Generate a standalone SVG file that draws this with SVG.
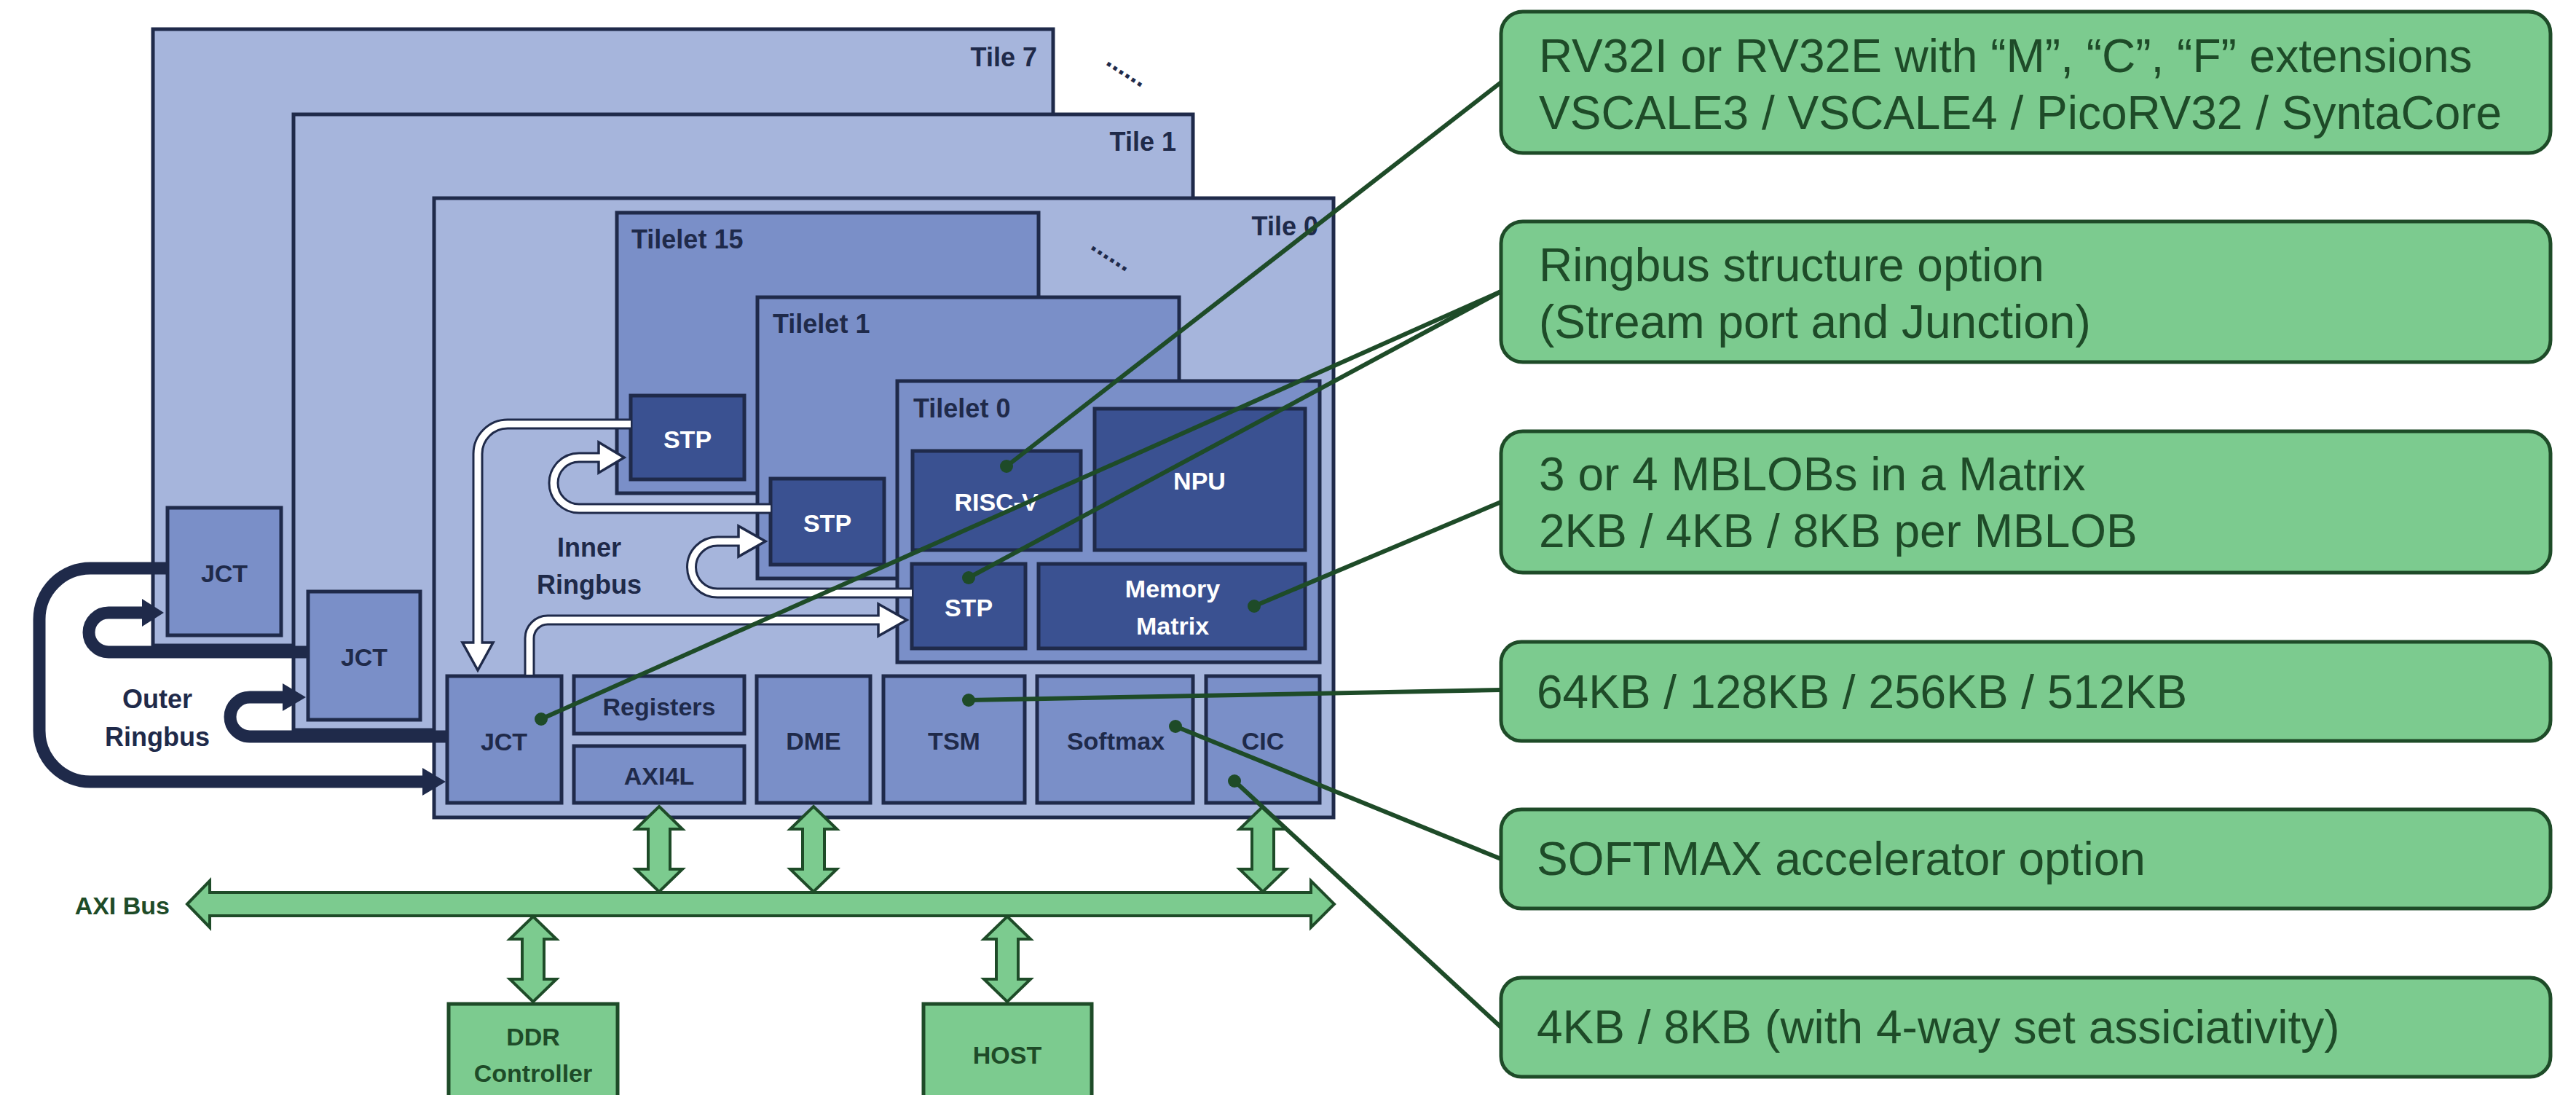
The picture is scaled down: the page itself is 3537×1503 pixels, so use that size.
<svg xmlns="http://www.w3.org/2000/svg" width="3537" height="1503" viewBox="0 0 3537 1503">
<style>
.tile{fill:#A6B5DC;stroke:#1F2A4A;stroke-width:5}
.mid{fill:#7A8FC8;stroke:#1F2A4A;stroke-width:5}
.dk{fill:#3A5191;stroke:#1F2A4A;stroke-width:5}
.lbl{font-family:"Liberation Sans",Arial,sans-serif;font-weight:bold;font-size:34px;fill:#1F2A4A}
.big{font-size:36px}
.wl{fill:#FFFFFF}
.gl{fill:#1E4B28}
.gbox{fill:#7CCB8F;stroke:#1E4B28;stroke-width:5}
.gtxt{font-family:"Liberation Sans",Arial,sans-serif;font-size:64px;fill:#1E4B28}
.garr{fill:#7CCB8F;stroke:#1E4B28;stroke-width:4;stroke-linejoin:miter}
.co{stroke:#1E4B28;stroke-width:6;fill:none}
.dot{fill:#1E4B28}
.orb{stroke:#1F2A4A;stroke-width:17;fill:none}
.orh{fill:#1F2A4A}
.iro{stroke:#1F2A4A;stroke-width:15;fill:none}
.iri{stroke:#FFFFFF;stroke-width:9;fill:none}
.irh{fill:#FFFFFF;stroke:#1F2A4A;stroke-width:3.5;stroke-linejoin:miter}
</style>

<g id="tile7">
<rect class="tile" x="210" y="40" width="1236" height="846"/>
<text class="lbl big" x="1424" y="91" text-anchor="end">Tile 7</text>
</g>
<g id="jct7">
<rect class="mid" x="230" y="697" width="156" height="175"/>
<text class="lbl" x="308" y="799" text-anchor="middle">JCT</text>
</g>
<text class="lbl big" transform="translate(1517,88) rotate(33)">......</text>

<g id="tile1">
<rect class="tile" x="403" y="157" width="1235" height="845"/>
<text class="lbl big" x="1615" y="207" text-anchor="end">Tile 1</text>
</g>
<g id="jct1">
<rect class="mid" x="423" y="812" width="154" height="176"/>
<text class="lbl" x="500" y="914" text-anchor="middle">JCT</text>
</g>

<g id="tile0">
<rect class="tile" x="596" y="272" width="1235" height="850"/>
<text class="lbl big" x="1810" y="323" text-anchor="end">Tile 0</text>
</g>
<text class="lbl big" transform="translate(1496,341) rotate(33)">......</text>

<g id="tilelet15">
<rect class="mid" x="847" y="292" width="579" height="385"/>
<text class="lbl big" x="867" y="341">Tilelet 15</text>
</g>
<g id="stp15">
<rect class="dk" x="866" y="543" width="156" height="115"/>
<text class="lbl wl" x="944" y="615" text-anchor="middle">STP</text>
</g>

<g id="tilelet1">
<rect class="mid" x="1040" y="408" width="579" height="386"/>
<text class="lbl big" x="1061" y="457">Tilelet 1</text>
</g>
<g id="stp1">
<rect class="dk" x="1058" y="657" width="156" height="118"/>
<text class="lbl wl" x="1136" y="730" text-anchor="middle">STP</text>
</g>

<g id="tilelet0">
<rect class="mid" x="1232" y="523" width="580" height="386"/>
<text class="lbl big" x="1254" y="573">Tilelet 0</text>
</g>
<g id="riscv">
<rect class="dk" x="1253" y="619" width="231" height="136"/>
<text class="lbl wl" x="1368" y="701" text-anchor="middle">RISC-V</text>
</g>
<g id="npu">
<rect class="dk" x="1503" y="561" width="289" height="194"/>
<text class="lbl wl" x="1647" y="672" text-anchor="middle">NPU</text>
</g>
<g id="stp0">
<rect class="dk" x="1252" y="774" width="156" height="116"/>
<text class="lbl wl" x="1330" y="846" text-anchor="middle">STP</text>
</g>
<g id="memory">
<rect class="dk" x="1426" y="774" width="366" height="116"/>
<text class="lbl wl" x="1610" y="820" text-anchor="middle">Memory</text>
<text class="lbl wl" x="1610" y="871" text-anchor="middle">Matrix</text>
</g>

<g id="jct0">
<rect class="mid" x="614" y="928" width="157" height="174"/>
<text class="lbl" x="692" y="1030" text-anchor="middle">JCT</text>
</g>
<g id="registers">
<rect class="mid" x="788" y="928" width="234" height="79"/>
<text class="lbl" x="905" y="982" text-anchor="middle">Registers</text>
</g>
<g id="axi4l">
<rect class="mid" x="788" y="1024" width="234" height="78"/>
<text class="lbl" x="905" y="1077" text-anchor="middle">AXI4L</text>
</g>
<g id="dme">
<rect class="mid" x="1039" y="928" width="156" height="174"/>
<text class="lbl" x="1117" y="1029" text-anchor="middle">DME</text>
</g>
<g id="tsm">
<rect class="mid" x="1213" y="928" width="194" height="174"/>
<text class="lbl" x="1310" y="1029" text-anchor="middle">TSM</text>
</g>
<g id="softmax">
<rect class="mid" x="1424" y="928" width="214" height="174"/>
<text class="lbl" x="1532" y="1029" text-anchor="middle">Softmax</text>
</g>
<g id="cic">
<rect class="mid" x="1656" y="928" width="156" height="174"/>
<text class="lbl" x="1734" y="1029" text-anchor="middle">CIC</text>
</g>

<g id="labels">
<text class="lbl big" x="809" y="764" text-anchor="middle">Inner</text>
<text class="lbl big" x="809" y="815" text-anchor="middle">Ringbus</text>
<text class="lbl big" x="216" y="972" text-anchor="middle">Outer</text>
<text class="lbl big" x="216" y="1024" text-anchor="middle">Ringbus</text>
<text class="lbl gl" x="233" y="1255" text-anchor="end">AXI Bus</text>
</g>

<g id="ddr">
<rect class="gbox" x="616" y="1378" width="232" height="140"/>
<text class="lbl gl" x="732" y="1435" text-anchor="middle">DDR</text>
<text class="lbl gl" x="732" y="1485" text-anchor="middle">Controller</text>
</g>
<g id="host">
<rect class="gbox" x="1268" y="1378" width="231" height="140"/>
<text class="lbl gl" x="1383" y="1460" text-anchor="middle">HOST</text>
</g>

<g id="callouts">
<g id="c1">
<rect class="gbox" x="2061" y="16" width="1441" height="194" rx="30"/>
<text class="gtxt" x="2113" y="99">RV32I or RV32E with “M”, “C”, “F” extensions</text>
<text class="gtxt" x="2113" y="177">VSCALE3 / VSCALE4 / PicoRV32 / SyntaCore</text>
</g>
<g id="c2">
<rect class="gbox" x="2061" y="304" width="1441" height="193" rx="30"/>
<text class="gtxt" x="2113" y="386">Ringbus structure option</text>
<text class="gtxt" x="2113" y="464">(Stream port and Junction)</text>
</g>
<g id="c3">
<rect class="gbox" x="2061" y="592" width="1441" height="194" rx="30"/>
<text class="gtxt" x="2113" y="673">3 or 4 MBLOBs in a Matrix</text>
<text class="gtxt" x="2113" y="751">2KB / 4KB / 8KB per MBLOB</text>
</g>
<g id="c4">
<rect class="gbox" x="2061" y="881" width="1441" height="136" rx="28"/>
<text class="gtxt" x="2110" y="972">64KB / 128KB / 256KB / 512KB</text>
</g>
<g id="c5">
<rect class="gbox" x="2061" y="1111" width="1441" height="136" rx="28"/>
<text class="gtxt" x="2110" y="1201">SOFTMAX accelerator option</text>
</g>
<g id="c6">
<rect class="gbox" x="2061" y="1342" width="1441" height="136" rx="28"/>
<text class="gtxt" x="2110" y="1432">4KB / 8KB (with 4-way set assiciativity)</text>
</g>
</g>

<g id="connectors">
<path class="orb" d="M 230 780 H 124 A 70 70 0 0 0 54 850 V 1003 A 70 70 0 0 0 124 1073 H 582"/>
<polygon class="orh" points="580,1054 612,1073 580,1092"/>
<path class="orb" d="M 423 895 H 149 A 27 27 0 0 1 122 868 A 27 27 0 0 1 149 841 H 197"/>
<polygon class="orh" points="195,822 225,841 195,860"/>
<path class="orb" d="M 614 1011 H 343 A 27 27 0 0 1 316 984 A 27 27 0 0 1 343 957 H 390"/>
<polygon class="orh" points="388,938 420,957 388,976"/>

<path class="iro" d="M 866 582 H 697 A 41 41 0 0 0 656 623 V 882"/>
<polygon class="irh" points="635,882 677,882 656,920"/>
<path class="iri" d="M 866 582 H 697 A 41 41 0 0 0 656 623 V 886"/>

<path class="iro" d="M 1058 698 H 795 A 35 35 0 0 1 760 663 A 35 35 0 0 1 795 628 H 822"/>
<polygon class="irh" points="822,607 857,628 822,649"/>
<path class="iri" d="M 1058 698 H 795 A 35 35 0 0 1 760 663 A 35 35 0 0 1 795 628 H 826"/>

<path class="iro" d="M 1252 814 H 985 A 35.5 35.5 0 0 1 949.5 778.5 A 35.5 35.5 0 0 1 985 743 H 1014"/>
<polygon class="irh" points="1014,722 1051,743 1014,764"/>
<path class="iri" d="M 1252 814 H 985 A 35.5 35.5 0 0 1 949.5 778.5 A 35.5 35.5 0 0 1 985 743 H 1018"/>

<path class="iro" d="M 727 928 V 876 A 25 25 0 0 1 752 851 H 1206"/>
<polygon class="irh" points="1206,829 1245,851 1206,873"/>
<path class="iri" d="M 727 926 V 876 A 25 25 0 0 1 752 851 H 1210"/>

<polygon class="garr" points="257,1241 288,1209 288,1225 1800,1225 1800,1209 1832,1241 1800,1273 1800,1257 288,1257 288,1273"/>
<polygon class="garr" points="905,1107 937,1138 920,1138 920,1193 937,1193 905,1224 873,1193 890,1193 890,1138 873,1138"/>
<polygon class="garr" points="1117,1107 1149,1138 1132,1138 1132,1193 1149,1193 1117,1224 1085,1193 1102,1193 1102,1138 1085,1138"/>
<polygon class="garr" points="1734,1107 1766,1138 1749,1138 1749,1193 1766,1193 1734,1224 1702,1193 1719,1193 1719,1138 1702,1138"/>
<polygon class="garr" points="732,1258 764,1289 747,1289 747,1344 764,1344 732,1375 700,1344 717,1344 717,1289 700,1289"/>
<polygon class="garr" points="1383,1258 1415,1289 1398,1289 1398,1344 1415,1344 1383,1375 1351,1344 1368,1344 1368,1289 1351,1289"/>

<line class="co" x1="1382" y1="640" x2="2061" y2="113"/>
<line class="co" x1="1330" y1="793" x2="2061" y2="400"/>
<line class="co" x1="743" y1="987" x2="2061" y2="400"/>
<line class="co" x1="1722" y1="832" x2="2061" y2="689"/>
<line class="co" x1="1330" y1="961" x2="2061" y2="947"/>
<line class="co" x1="1614" y1="997" x2="2061" y2="1179"/>
<line class="co" x1="1695" y1="1072" x2="2061" y2="1410"/>
<circle class="dot" cx="1382" cy="640" r="9"/>
<circle class="dot" cx="1330" cy="793" r="9"/>
<circle class="dot" cx="743" cy="987" r="9"/>
<circle class="dot" cx="1722" cy="832" r="9"/>
<circle class="dot" cx="1330" cy="961" r="9"/>
<circle class="dot" cx="1614" cy="997" r="9"/>
<circle class="dot" cx="1695" cy="1072" r="9"/>
</g>
</svg>
